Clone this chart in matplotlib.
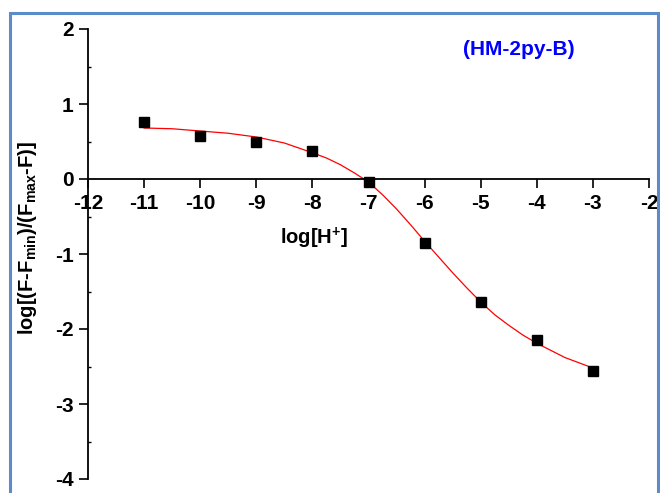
import matplotlib
matplotlib.use('Agg')
import matplotlib.pyplot as plt
from matplotlib.patches import Rectangle
from matplotlib.ticker import MultipleLocator

plt.rcParams['font.family'] = ['Liberation Sans', 'DejaVu Sans']
plt.rcParams['axes.unicode_minus'] = False
plt.rcParams['mathtext.fontset'] = 'custom'
plt.rcParams['mathtext.rm'] = 'Liberation Sans:bold'
plt.rcParams['mathtext.it'] = 'Liberation Sans:bold'
plt.rcParams['mathtext.bf'] = 'Liberation Sans:bold'

# measured points
log_h = [-11, -10, -9, -8, -7, -6, -5, -4, -3]
log_ratio = [0.76, 0.57, 0.49, 0.37, -0.04, -0.85, -1.64, -2.15, -2.56]

# fitted curve
fit_x = [-11, -10.5, -10, -9.5, -9, -8.5, -8, -7.75, -7.5, -7.25, -7, -6.75, -6.5, -6.25,
         -6, -5.75, -5.5, -5.25, -5, -4.75, -4.5, -4.25, -4, -3.5, -3]
fit_y = [0.68, 0.67, 0.64, 0.61, 0.56, 0.48, 0.35, 0.28, 0.19, 0.08, -0.04, -0.21, -0.40, -0.61,
         -0.83, -1.04, -1.25, -1.45, -1.64, -1.81, -1.95, -2.08, -2.19, -2.38, -2.52]

xticks = [-12, -11, -10, -9, -8, -7, -6, -5, -4, -3, -2]
yticks = [-4, -3, -2, -1, 0, 1, 2]

fig = plt.figure(figsize=(6.6, 4.93), dpi=100)
ax = fig.add_axes([88 / 660, 1 - 479 / 493, (649 - 88) / 660, (479 - 29) / 493])

ax.plot(fit_x, fit_y, color='red', lw=0.9, zorder=2)
ax.plot(log_h, log_ratio, 's', color='black', markersize=7.5, zorder=3, clip_on=False)

ax.set_xlim(-12, -2)
ax.set_ylim(-4, 2)
ax.spines['top'].set_visible(False)
ax.spines['right'].set_visible(False)
ax.spines['bottom'].set_position(('data', 0))
ax.spines['left'].set_linewidth(1.3)
ax.spines['bottom'].set_linewidth(1.3)

ax.set_xticks(xticks)
ax.set_xticklabels([str(v) for v in xticks], fontsize=15, fontweight='bold')
ax.set_yticks(yticks)
ax.set_yticklabels([str(v) for v in yticks], fontsize=15, fontweight='bold')
ax.yaxis.set_minor_locator(MultipleLocator(0.5))
ax.tick_params(axis='both', which='major', direction='out', length=6.5, width=1.2, pad=4)
ax.tick_params(axis='y', which='minor', direction='in', length=2.5, width=1)

ax.text(-7.98, -0.79, r'log[H$^{+}$]', fontsize=14.5, fontweight='bold',
        ha='center', va='center')
fig.text(0.041, 0.517, r'log[(F-F$_{\mathrm{min}}$)/(F$_{\mathrm{max}}$-F)]', fontsize=14.5,
         fontweight='bold', rotation=90, ha='center', va='center')
ax.text(-4.32, 1.73, '(HM-2py-B)', color='#0000ff', fontsize=15, fontweight='bold',
        ha='center', va='center')

fig.patches.append(Rectangle((9.5 / 660, -0.1), (658 - 9.5) / 660, 1.1 - 13.5 / 493,
                             transform=fig.transFigure, fill=False,
                             edgecolor='#5b8bc8', lw=2.2))

fig.savefig('out.png', dpi=100)
